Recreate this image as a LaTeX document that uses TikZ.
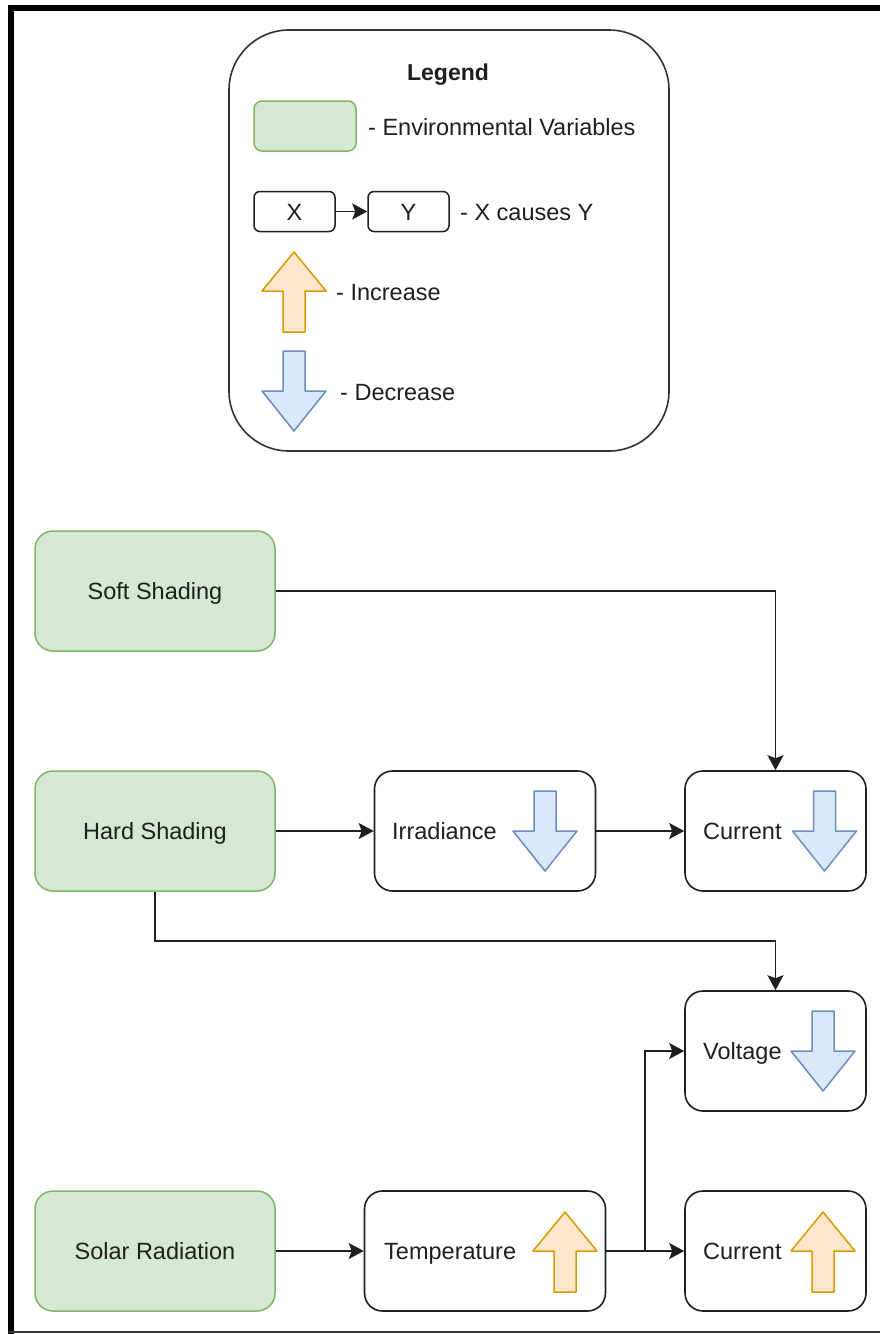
\documentclass[tikz,border=0pt]{standalone}
\usepackage{fontspec}
\setmainfont{Liberation Sans}
\usetikzlibrary{arrows.meta}

\definecolor{envfill}{HTML}{D5E8D4}
\definecolor{envline}{HTML}{82B366}
\definecolor{upfill}{HTML}{FFE6CC}
\definecolor{upline}{HTML}{D79B00}
\definecolor{downfill}{HTML}{DAE8FC}
\definecolor{downline}{HTML}{6C8EBF}
\definecolor{ink}{HTML}{1F1F1F}
\definecolor{frame}{HTML}{333333}

\tikzset{
  txt/.style={inner sep=0pt, text height=17pt, text depth=0pt, text=ink,
    font=\fontsize{23.5}{28}\selectfont},
  envbox/.style={txt, draw=envline, fill=envfill, line width=1.5pt,
    rounded corners=18pt, minimum width=240pt, minimum height=120pt},
  effbox/.style={draw=ink, fill=white, line width=1.6pt, rounded corners=18pt,
    minimum height=120pt, inner sep=0pt},
  smallbox/.style={txt, draw=ink, fill=white, line width=1.5pt, rounded corners=6pt,
    minimum width=81pt, minimum height=40pt},
  conn/.style={draw=ink, line width=1.6pt,
    -{Stealth[length=15pt, width=16pt, inset=3pt]}},
  incr/.style={draw=upline, fill=upfill, line width=1.5pt, line join=round},
  decr/.style={draw=downline, fill=downfill, line width=1.5pt, line join=round},
  uparrow/.pic={
    \draw[incr] (0,-40) -- (32,-1) -- (11,-1) -- (11,40) -- (-11,40)
      -- (-11,-1) -- (-32,-1) -- cycle;
  },
  downarrow/.pic={
    \draw[decr] (-11,-40) -- (11,-40) -- (11,0) -- (32,0) -- (0,40)
      -- (-32,0) -- (-11,0) -- cycle;
  }
}

\begin{document}
\begin{tikzpicture}[x=1pt, y=-1pt]
\useasboundingbox (0,0) rectangle (880,1334);
\fill[white] (0,0) rectangle (880,1334);

% page frame
\fill[black] (8,5) rectangle (880,11);
\fill[black] (8,5) rectangle (14,1334);
\fill[frame] (8,1331) rectangle (880,1333);

% ---------- legend ----------
\node[draw=frame, fill=white, line width=1.6pt, rounded corners=60pt,
      minimum width=440pt, minimum height=421pt, inner sep=0pt] (legend) at (449,240.5) {};
\node[txt, font=\fontsize{23}{28}\selectfont\bfseries] (legtitle) at (448,72) {Legend};

\node[draw=envline, fill=envfill, line width=1.5pt, rounded corners=8pt,
      minimum width=102pt, minimum height=50pt, inner sep=0pt] (legenv) at (305,126) {};
\node[txt, anchor=west] (legenvtxt) at (368,127) {- Environmental Variables};

\node[smallbox] (legx) at (294.5,211.5) {X};
\node[smallbox] (legy) at (408.5,211.5) {Y};
\draw[conn] (legx) -- (legy);
\node[txt, anchor=west] (legcause) at (460,212) {- X causes Y};

\pic at (294,292) {uparrow};
\node[txt, anchor=west] (leginc) at (336,292) {- Increase};
\pic at (294,391) {downarrow};
\node[txt, anchor=west] (legdec) at (340,392) {- Decrease};

% ---------- environmental variables ----------
\node[envbox] (soft)  at (155,591)  {Soft Shading};
\node[envbox] (hard)  at (155,831)  {Hard Shading};
\node[envbox] (solar) at (155,1251) {Solar Radiation};

% ---------- effects ----------
\node[effbox, minimum width=221pt] (irr)  at (485,831)    {};
\node[txt, anchor=west] (irrtxt) at (392,831) {Irradiance};
\pic at (545,831) {downarrow};

\node[effbox, minimum width=181pt] (cur1) at (775.5,831)  {};
\node[txt, anchor=west] (cur1txt) at (703,831) {Current};
\pic at (824.5,831) {downarrow};

\node[effbox, minimum width=181pt] (volt) at (775.5,1051) {};
\node[txt, anchor=west] (volttxt) at (703,1051) {Voltage};
\pic at (823,1051) {downarrow};

\node[effbox, minimum width=241pt] (temp) at (485,1251)   {};
\node[txt, anchor=west] (temptxt) at (384,1251) {Temperature};
\pic at (565,1252) {uparrow};

\node[effbox, minimum width=181pt] (cur2) at (775.5,1251) {};
\node[txt, anchor=west] (cur2txt) at (703,1251) {Current};
\pic at (823,1252) {uparrow};

% ---------- causal links ----------
\draw[conn] (soft.east) -| (cur1.north);
\draw[conn] (hard.east) -- (irr.west);
\draw[conn] (irr.east) -- (cur1.west);
\coordinate (hbend) at (155,941);
\draw[conn] (hard.south) -- (hbend) -| (volt.north);
\draw[conn] (solar.east) -- (temp.west);
\draw[conn] (temp.east) -- (cur2.west);
\coordinate (split) at (645,1251);
\draw[conn] (split) |- (volt.west);
\end{tikzpicture}
\end{document}
